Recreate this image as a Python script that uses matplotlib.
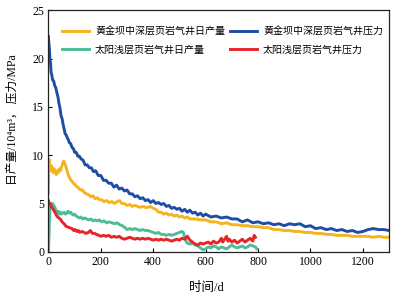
import matplotlib
matplotlib.use("Agg")
import matplotlib.pyplot as plt

plt.rcParams['font.family'] = ['Liberation Serif', 'Noto Sans CJK SC', 'DejaVu Sans']

# 黄金坝 pressure (blue)
blue_d = [0, 2, 4, 6, 8, 10, 13, 16, 20, 24, 28, 32, 36, 40, 44, 48, 52, 56, 60, 64, 68, 72, 76, 80,
          85, 90, 95, 100, 106, 112, 118, 125, 132, 140, 148, 156, 164, 172, 180, 190, 200, 210, 220,
          230, 240, 250, 260, 270, 280, 290, 300, 310, 320, 330, 340, 350, 360, 370, 380, 390, 400,
          410, 420, 430, 440, 450, 460, 470, 480, 490, 500, 510, 520, 530, 540, 550, 560, 570, 580,
          590, 600, 620, 640, 660, 680, 700, 720, 740, 760, 780, 800, 820, 840, 860, 880, 900, 920,
          940, 960, 980, 1000, 1020, 1040, 1060, 1080, 1100, 1120, 1140, 1160, 1180, 1200, 1220,
          1240, 1260, 1280, 1300]
blue_v = [22.3, 21.5, 20.9, 19.8, 19.6, 18.6, 18.3, 17.8, 17.7, 17.2, 17.0, 16.5, 16.1, 15.4, 14.9,
          14.1, 13.8, 13.2, 12.7, 12.2, 12.1, 11.8, 11.6, 11.3, 11.2, 10.8, 10.7, 10.3, 10.3, 9.9,
          9.9, 9.6, 9.5, 9.0, 9.0, 8.7, 8.7, 8.3, 8.4, 7.9, 7.9, 7.4, 7.4, 7.1, 7.1, 6.7, 6.9, 6.5,
          6.6, 6.3, 6.4, 6.0, 6.0, 5.7, 5.8, 5.5, 5.6, 5.3, 5.4, 5.1, 5.3, 5.0, 5.1, 4.9, 5.0, 4.7,
          4.8, 4.5, 4.6, 4.4, 4.5, 4.2, 4.4, 4.1, 4.3, 4.0, 4.1, 3.8, 4.0, 3.7, 3.9, 3.6, 3.7, 3.5,
          3.6, 3.4, 3.4, 3.1, 3.3, 3.0, 3.1, 2.9, 3.0, 2.8, 2.9, 2.7, 2.9, 2.8, 2.9, 2.6, 2.7, 2.4,
          2.5, 2.3, 2.4, 2.2, 2.3, 2.1, 2.2, 2.0, 2.1, 2.3, 2.4, 2.3, 2.3, 2.2]

# 黄金坝 daily production (orange)
orange_d = [0, 1, 2, 4, 6, 9, 12, 15, 18, 22, 26, 30, 34, 38, 42, 46, 50, 54, 58, 62, 66, 70, 74,
            78, 82, 86, 90, 95, 100, 106, 112, 118, 124, 130, 138, 146, 154, 162, 170, 178, 186,
            194, 202, 212, 222, 232, 242, 252, 262, 272, 280, 290, 300, 310, 320, 330, 340, 350,
            360, 370, 380, 390, 400, 410, 420, 430, 440, 450, 460, 470, 480, 490, 500, 510, 520,
            530, 540, 560, 580, 600, 620, 640, 660, 680, 700, 720, 740, 760, 780, 800, 820, 840,
            860, 880, 900, 920, 940, 960, 980, 1000, 1020, 1040, 1060, 1080, 1100, 1120, 1140,
            1160, 1180, 1200, 1220, 1240, 1260, 1280, 1300]
orange_v = [6.0, 8.0, 9.6, 9.2, 8.7, 8.4, 8.9, 8.5, 8.2, 8.6, 8.3, 8.0, 8.4, 8.2, 8.6, 8.4, 8.8,
            9.1, 9.4, 9.2, 8.9, 8.5, 8.1, 7.8, 7.6, 7.4, 7.3, 7.1, 7.0, 6.8, 6.7, 6.5, 6.4, 6.4,
            6.1, 6.0, 5.9, 5.7, 5.8, 5.5, 5.6, 5.4, 5.4, 5.2, 5.3, 5.1, 5.2, 5.0, 5.2, 5.3, 5.0,
            5.0, 4.8, 4.9, 4.7, 4.8, 4.7, 4.6, 4.7, 4.6, 4.6, 4.7, 4.5, 4.4, 4.1, 4.1, 3.9, 4.0,
            3.8, 3.9, 3.7, 3.8, 3.6, 3.7, 3.5, 3.6, 3.4, 3.4, 3.3, 3.3, 3.1, 3.1, 2.9, 3.0, 2.8,
            2.8, 2.7, 2.7, 2.6, 2.6, 2.5, 2.5, 2.3, 2.3, 2.2, 2.2, 2.1, 2.1, 2.0, 2.0, 1.9, 1.9,
            1.8, 1.8, 1.7, 1.7, 1.7, 1.6, 1.6, 1.6, 1.6, 1.5, 1.6, 1.5, 1.5]

# 太阳 daily production (green)
green_d = [0, 2, 4, 6, 9, 12, 15, 18, 22, 26, 30, 34, 38, 42, 46, 50, 55, 60, 65, 70, 75, 80, 85,
           90, 95, 100, 106, 112, 118, 124, 130, 138, 146, 154, 162, 170, 178, 186, 194, 202, 212,
           222, 232, 242, 252, 262, 272, 282, 292, 300, 310, 320, 330, 340, 350, 360, 370, 380,
           390, 400, 410, 420, 430, 440, 450, 460, 470, 480, 490, 500, 510, 515, 520, 525, 530,
           540, 550, 560, 570, 580, 590, 600, 610, 620, 630, 640, 650, 660, 670, 680, 690, 700,
           710, 720, 730, 740, 750, 760, 770, 780, 790, 795]
green_v = [0.0, 1.5, 3.5, 4.5, 5.0, 4.8, 5.0, 4.9, 4.7, 4.5, 4.2, 4.0, 4.2, 3.9, 4.1, 3.9, 4.0,
           4.1, 3.9, 4.0, 4.2, 4.0, 4.1, 3.9, 3.8, 3.9, 3.7, 3.6, 3.5, 3.6, 3.4, 3.5, 3.4, 3.3,
           3.4, 3.2, 3.3, 3.2, 3.3, 3.1, 3.2, 3.0, 3.1, 3.0, 2.9, 3.0, 2.8, 2.7, 2.5, 2.3, 2.4,
           2.3, 2.4, 2.3, 2.2, 2.3, 2.2, 2.2, 2.1, 2.0, 1.9, 2.0, 1.8, 1.8, 1.7, 1.8, 1.7, 1.8,
           1.9, 2.0, 2.1, 2.0, 1.5, 1.1, 0.9, 0.8, 0.9, 0.7, 0.6, 0.4, 0.2, 0.3, 0.5, 0.4, 0.6,
           0.5, 0.3, 0.5, 0.4, 0.3, 0.5, 0.7, 0.5, 0.4, 0.5, 0.6, 0.4, 0.5, 0.7, 0.6, 0.5, 0.3]

# 太阳 pressure (red)
red_d = [0, 2, 5, 8, 12, 16, 20, 25, 30, 35, 40, 45, 50, 55, 60, 65, 70, 80, 90, 96, 102, 108,
         114, 120, 128, 136, 144, 152, 160, 168, 176, 184, 192, 200, 210, 220, 230, 240, 250, 260,
         270, 280, 290, 300, 310, 320, 330, 340, 350, 360, 370, 380, 390, 400, 410, 420, 430, 440,
         450, 460, 470, 480, 490, 500, 510, 520, 530, 540, 550, 560, 570, 580, 590, 600, 610, 620,
         630, 640, 650, 660, 665, 670, 680, 685, 690, 700, 710, 720, 730, 740, 750, 760, 770, 780,
         785, 790]
red_v = [5.3, 5.1, 5.0, 4.9, 4.6, 4.5, 4.3, 4.1, 3.8, 3.6, 3.5, 3.4, 3.2, 3.0, 2.9, 2.7, 2.6,
         2.5, 2.4, 2.2, 2.3, 2.1, 2.2, 2.0, 2.1, 2.0, 1.9, 2.0, 2.2, 1.9, 1.9, 1.8, 1.7, 1.6, 1.7,
         1.6, 1.7, 1.5, 1.6, 1.5, 1.6, 1.4, 1.3, 1.4, 1.5, 1.4, 1.3, 1.4, 1.3, 1.4, 1.3, 1.4, 1.3,
         1.2, 1.3, 1.2, 1.3, 1.2, 1.3, 1.2, 1.1, 1.2, 1.3, 1.2, 1.4, 1.3, 1.6, 1.2, 1.0, 0.8, 0.7,
         0.9, 0.8, 0.9, 1.0, 0.8, 1.1, 0.9, 1.0, 1.4, 1.0, 1.2, 1.6, 1.1, 1.3, 1.0, 1.2, 0.9, 1.1,
         1.3, 1.0, 1.2, 1.4, 1.1, 1.7, 1.5]

labels = ['黄金坝中深层页岩气井日产量', '太阳浅层页岩气井日产量',
          '黄金坝中深层页岩气井压力', '太阳浅层页岩气井压力']
colors = ['#F5B41E', '#4DBD95', '#1F4DA5', '#E6252A']

fig = plt.figure(figsize=(3.97, 2.99), dpi=100)
ax = fig.add_axes([0.122, 0.158, 0.858, 0.807])

lw = 2.1
ax.plot(orange_d, orange_v, color=colors[0], lw=lw, label=labels[0])
ax.plot(green_d, green_v, color=colors[1], lw=lw, label=labels[1])
ax.plot(blue_d, blue_v, color=colors[2], lw=lw, label=labels[2])
ax.plot(red_d, red_v, color=colors[3], lw=lw, label=labels[3])

ax.set_xlim(0, 1300)
ax.set_ylim(0, 25)
ax.set_xticks([0, 200, 400, 600, 800, 1000, 1200])
ax.set_yticks([0, 5, 10, 15, 20, 25])
ax.tick_params(direction='in', length=3, width=0.8, labelsize=8.5, pad=3)
for s in ax.spines.values():
    s.set_linewidth(0.9)
    s.set_color('#222222')

ax.set_xlabel('时间/d', fontsize=9)
ax.xaxis.set_label_coords(0.463, -0.125)
ax.set_ylabel('日产量/10⁴m³， 压力/MPa', fontsize=8.5)
ax.yaxis.set_label_coords(-0.088, 0.546)

ax.legend(ncol=2, frameon=False, fontsize=7.2, loc='upper left',
          bbox_to_anchor=(0.04, 0.935), borderaxespad=0, borderpad=0,
          handlelength=2.7, handletextpad=0.6, columnspacing=0.5, labelspacing=0.9)

fig.savefig('out.png', dpi=100)
